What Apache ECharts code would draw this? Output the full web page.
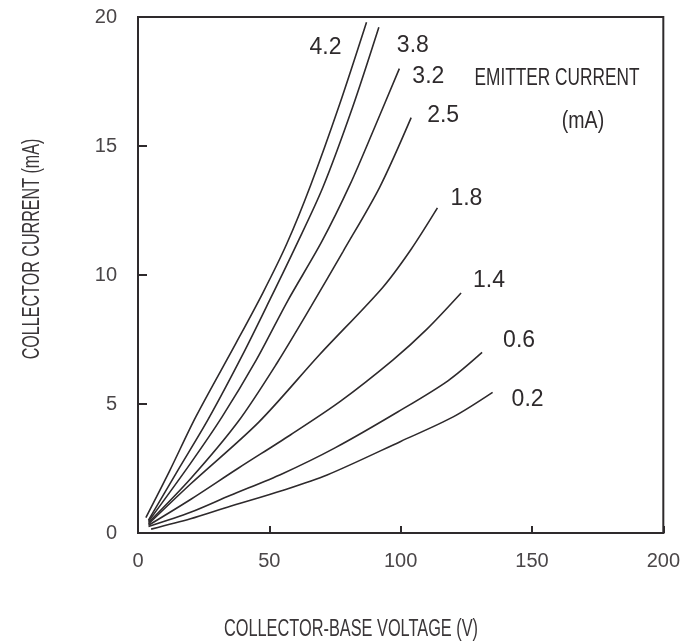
<!DOCTYPE html>
<html>
<head>
<meta charset="utf-8">
<script src="https://cdn.jsdelivr.net/npm/echarts@6/dist/echarts.min.js"></script>
<style>
html,body{margin:0;padding:0;background:#ffffff;}
#chart{width:683px;height:644px;}
</style>
</head>
<body>
<div id="chart"></div>
<script>
// Emitter current curve labels (mA)
const curveNames = ['4.2', '3.8', '3.2', '2.5', '1.8', '1.4', '0.6', '0.2'];

// Collector-base voltage (V) and collector current (mA) for each curve
const v42 = [3, 12, 22, 37, 47.5, 56.6, 65.8, 76.7, 87];
const i42 = [0.6, 2.4, 4.5, 7.3, 9.3, 11.2, 13.5, 16.6, 19.8];

const v38 = [4, 15, 26.7, 39.8, 50.5, 60, 70.4, 81.7, 91.7];
const i38 = [0.5, 2.4, 4.4, 6.9, 9.1, 11.1, 13.4, 16.5, 19.6];

const v32 = [4, 20, 32, 45, 57, 70, 80.7, 90, 99.5];
const i32 = [0.45, 2.7, 4.5, 6.7, 9.0, 11.3, 13.5, 15.7, 18.0];

const v25 = [4, 20, 38, 53, 66, 78, 92, 104];
const i25 = [0.4, 2.1, 4.3, 6.6, 8.8, 10.9, 13.4, 16.1];

const v18 = [4, 20, 46, 69, 93, 104, 114];
const i18 = [0.35, 1.9, 4.3, 6.9, 9.5, 11.0, 12.6];

const v14 = [4, 20, 38, 58, 77, 97, 110, 123];
const i14 = [0.3, 1.3, 2.5, 3.8, 5.1, 6.7, 7.9, 9.3];

const v06 = [4, 20, 35, 55, 75, 99, 118, 131];
const i06 = [0.25, 0.8, 1.45, 2.3, 3.3, 4.7, 5.9, 7.0];

const v02 = [5, 20, 34, 55, 72, 100, 120, 135];
const i02 = [0.15, 0.55, 1.0, 1.65, 2.25, 3.55, 4.5, 5.45];

// Axis ticks
const xTicks = [0, 50, 100, 150, 200];
const yTicks = [0, 5, 10, 15, 20];

// Texts
const xTitle = 'COLLECTOR-BASE VOLTAGE (V)';
const yTitle = 'COLLECTOR CURRENT (mA)';
const legendTitle = 'EMITTER CURRENT';
const legendUnit = '(mA)';

const curveV = [v42, v38, v32, v25, v18, v14, v06, v02];
const curveI = [i42, i38, i32, i25, i18, i14, i06, i02];

// label offsets relative to curve end (style)
const labelOffsets = [[-41, 25], [34, 18], [29, 8], [32, -2], [29, -9], [28, -12], [37, -12], [35, 7]];

const FONT = '"Liberation Sans", Arial, sans-serif';
const INK = '#2e2a2c';
const GREY = '#4a4648';

const chart = echarts.init(document.getElementById('chart'), null, {renderer: 'canvas'});

const series = curveNames.map((name, k) => ({
  name: name,
  type: 'line',
  smooth: 0.3,
  showSymbol: false,
  silent: true,
  animation: false,
  lineStyle: {color: INK, width: 1.6},
  data: curveV[k].map((v, j) => [v, curveI[k][j]])
}));

chart.setOption({
  animation: false,
  backgroundColor: '#ffffff',
  grid: {
    left: 138, right: 18, top: 17, bottom: 111,
    show: true, borderColor: INK, borderWidth: 2, backgroundColor: 'transparent'
  },
  xAxis: {
    type: 'value', min: xTicks[0], max: xTicks[xTicks.length - 1], interval: xTicks[1] - xTicks[0],
    axisLine: {show: true, lineStyle: {color: INK, width: 2}},
    axisTick: {show: true, inside: true, length: 7, lineStyle: {color: INK, width: 2}},
    axisLabel: {fontFamily: FONT, fontSize: 20, color: GREY, margin: 18},
    splitLine: {show: false}
  },
  yAxis: {
    type: 'value', min: yTicks[0], max: yTicks[yTicks.length - 1], interval: yTicks[1] - yTicks[0],
    axisLine: {show: true, lineStyle: {color: INK, width: 2}},
    axisTick: {show: true, inside: true, length: 9, lineStyle: {color: INK, width: 2}},
    axisLabel: {fontFamily: FONT, fontSize: 20, color: GREY, margin: 21},
    splitLine: {show: false}
  },
  series: series
});

// Curve labels placed next to the end of each curve, computed by the library's scales
const graphics = curveNames.map((name, k) => {
  const n = curveV[k].length;
  const p = chart.convertToPixel({gridIndex: 0}, [curveV[k][n - 1], curveI[k][n - 1]]);
  return {
    type: 'text',
    x: p[0] + labelOffsets[k][0],
    y: p[1] + labelOffsets[k][1],
    style: {text: name, fill: INK, font: '23px ' + FONT, align: 'center', verticalAlign: 'middle'}
  };
});
graphics.push({
  type: 'text', x: 557, y: 79, scaleX: 0.75,
  style: {text: legendTitle, fill: INK, font: '23px ' + FONT, align: 'center', verticalAlign: 'middle'}
});
graphics.push({
  type: 'text', x: 583, y: 122, scaleX: 0.85,
  style: {text: legendUnit, fill: INK, font: '23px ' + FONT, align: 'center', verticalAlign: 'middle'}
});
graphics.push({
  type: 'text', x: 351, y: 630, scaleX: 0.71,
  style: {text: xTitle, fill: '#3a3638', font: '23px ' + FONT, align: 'center', verticalAlign: 'middle'}
});
graphics.push({
  type: 'text', x: 33, y: 249, rotation: Math.PI / 2, scaleX: 0.70,
  style: {text: yTitle, fill: '#3a3638', font: '23px ' + FONT, align: 'center', verticalAlign: 'middle'}
});
chart.setOption({graphic: graphics});
</script>
</body>
</html>
